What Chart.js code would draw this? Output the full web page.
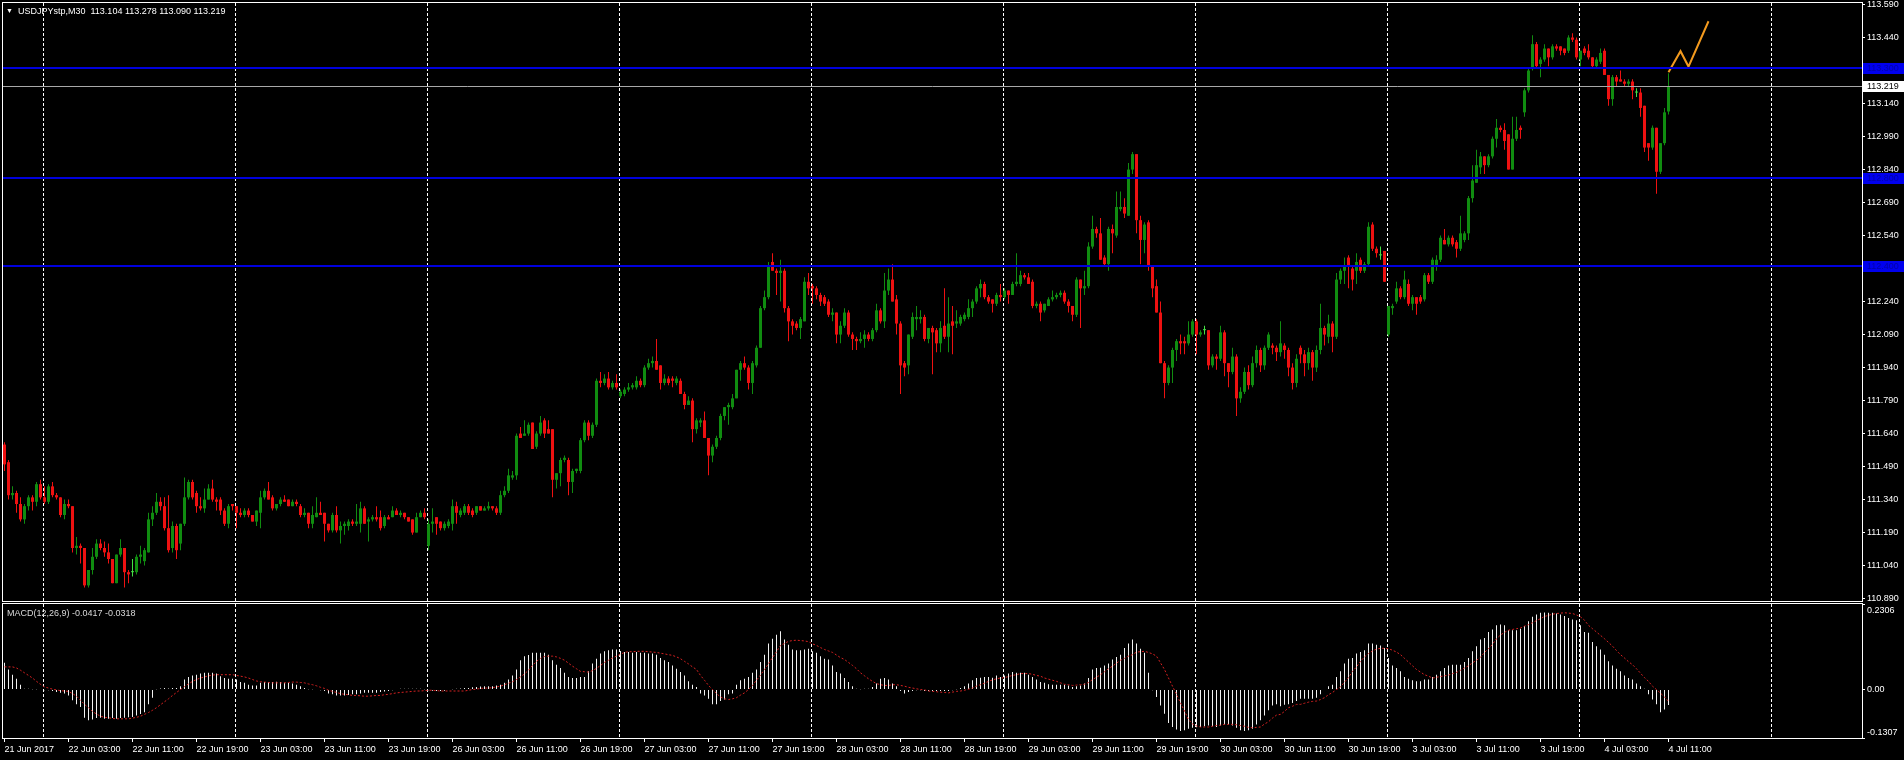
<!DOCTYPE html>
<html>
<head>
<meta charset="utf-8">
<script src="https://cdn.jsdelivr.net/npm/chart.js@4.4.0/dist/chart.umd.min.js"></script>
<style>
html,body{margin:0;padding:0;background:#000;}
body{width:1904px;height:760px;overflow:hidden;position:relative;font-family:'Liberation Sans',Arial,sans-serif;}
canvas{position:absolute;left:0;}
#main{top:0;}
#macd{top:603px;}
.lbl{position:absolute;font-size:9px;white-space:pre;line-height:10px;}
</style>
</head>
<body>
<canvas id="main" width="1904" height="603"></canvas>
<canvas id="macd" width="1904" height="157"></canvas>
<div class="lbl" style="left:6px;top:6px;color:#fff;font-size:7px;">▼</div>
<div class="lbl" id="title" style="left:18px;top:6px;color:#fff;"></div>
<div class="lbl" id="macdTitle" style="left:7px;top:608px;color:#d8d8d8;"></div>
<script>
// ---------- DATA ----------
const symbol = "USDJPYstp,M30";
const tickLabels = ["21 Jun 2017","22 Jun 03:00","22 Jun 11:00","22 Jun 19:00","23 Jun 03:00","23 Jun 11:00","23 Jun 19:00","26 Jun 03:00","26 Jun 11:00","26 Jun 19:00","27 Jun 03:00","27 Jun 11:00","27 Jun 19:00","28 Jun 03:00","28 Jun 11:00","28 Jun 19:00","29 Jun 03:00","29 Jun 11:00","29 Jun 19:00","30 Jun 03:00","30 Jun 11:00","30 Jun 19:00","3 Jul 03:00","3 Jul 11:00","3 Jul 19:00","4 Jul 03:00","4 Jul 11:00"];
const barsPerLabel = 16;
const dayStarts = [10,58,106,154,202,250,298,346,394,442];
const priceTicks = [110.890,111.040,111.190,111.340,111.490,111.640,111.790,111.940,112.090,112.240,112.390,112.540,112.690,112.840,112.990,113.140,113.290,113.440,113.590];
const levelLines = [113.300,112.800,112.400];
const bidPrice = 113.219;
const projX = [416,419,421,426];
const projY = [113.282,113.378,113.308,113.514];
const macdMax = 0.2306, macdMin = -0.1307;

const opens = [111.59,111.51,111.36,111.37,111.32,111.25,111.31,111.35,111.33,111.41,
111.35,111.33,111.40,111.36,111.35,111.27,111.32,111.31,111.12,111.13,
111.12,110.95,111.02,111.08,111.14,111.12,111.10,111.07,110.96,111.09,
111.12,111.01,111.01,111.01,111.08,111.06,111.10,111.25,111.28,111.33,
111.31,111.21,111.12,111.22,111.14,111.23,111.35,111.42,111.37,111.31,
111.30,111.34,111.39,111.34,111.34,111.29,111.23,111.32,111.31,111.28,
111.27,111.29,111.27,111.24,111.28,111.35,111.38,111.35,111.30,111.32,
111.34,111.34,111.31,111.33,111.31,111.27,111.28,111.23,111.26,111.28,
111.28,111.23,111.20,111.27,111.20,111.22,111.22,111.24,111.23,111.23,
111.30,111.24,111.25,111.26,111.26,111.22,111.26,111.26,111.29,111.27,
111.28,111.26,111.25,111.19,111.26,111.28,111.13,111.23,111.26,111.24,
111.21,111.22,111.23,111.31,111.27,111.28,111.31,111.29,111.28,111.31,
111.29,111.30,111.31,111.30,111.28,111.36,111.38,111.44,111.45,111.64,
111.63,111.64,111.69,111.58,111.64,111.70,111.66,111.66,111.43,111.46,
111.52,111.52,111.42,111.47,111.47,111.61,111.69,111.63,111.68,111.88,
111.87,111.89,111.85,111.87,111.81,111.82,111.84,111.85,111.85,111.88,
111.86,111.94,111.96,111.97,111.95,111.87,111.89,111.89,111.87,111.88,
111.82,111.77,111.79,111.66,111.69,111.70,111.62,111.54,111.58,111.62,
111.72,111.76,111.76,111.80,111.93,111.96,111.94,111.87,111.95,112.03,
112.21,112.26,112.42,112.38,112.37,112.38,112.21,112.15,112.14,112.12,
112.15,112.33,112.31,112.30,112.27,112.26,112.24,112.18,112.19,112.09,
112.13,112.19,112.09,112.07,112.06,112.07,112.09,112.07,112.11,112.20,
112.15,112.29,112.34,112.25,112.14,111.96,111.95,112.08,112.16,112.16,
112.17,112.07,112.12,112.11,112.05,112.13,112.08,112.15,112.14,112.14,
112.16,112.17,112.21,112.24,112.30,112.32,112.26,112.25,112.23,112.27,
112.26,112.29,112.27,112.32,112.32,112.36,112.35,112.33,112.22,112.23,
112.20,112.22,112.25,112.26,112.27,112.28,112.24,112.22,112.18,112.34,
112.30,112.31,112.49,112.57,112.55,112.44,112.41,112.57,112.54,112.66,
112.67,112.63,112.84,112.91,112.61,112.52,112.60,112.40,112.31,112.19,
111.96,111.87,111.94,112.02,112.06,112.06,112.05,112.09,112.15,112.09,
112.11,112.11,111.95,111.99,111.98,112.10,111.96,111.92,111.99,111.80,
111.83,111.92,111.86,111.96,112.02,111.95,112.03,112.04,112.03,112.01,
112.04,112.02,111.94,111.87,112.03,112.00,111.96,112.01,111.94,112.02,
112.12,112.08,112.14,112.08,112.34,112.38,112.44,112.39,112.38,112.43,
112.38,112.41,112.59,112.48,112.45,112.47,112.09,112.21,112.24,112.30,
112.26,112.32,112.23,112.26,112.26,112.25,112.36,112.33,112.40,112.43,
112.52,112.50,112.53,112.51,112.48,112.52,112.55,112.71,112.78,112.85,
112.90,112.86,112.90,112.98,113.03,113.02,113.00,112.84,112.98,113.03,
113.10,113.20,113.30,113.41,113.32,113.34,113.39,113.35,113.40,113.40,
113.39,113.38,113.44,113.43,113.34,113.39,113.38,113.35,113.31,113.33,
113.38,113.27,113.16,113.26,113.25,113.24,113.23,113.24,113.19,113.19,
113.13,112.96,112.94,113.03,112.83,112.96,113.104];

const highs = [111.60,111.52,111.40,111.38,111.35,111.32,111.36,111.36,111.42,111.43,
111.40,111.41,111.42,111.37,111.35,111.34,111.34,111.31,111.17,111.14,
111.12,111.02,111.12,111.16,111.16,111.15,111.14,111.07,111.09,111.16,
111.12,111.02,111.07,111.09,111.13,111.12,111.28,111.31,111.37,111.35,
111.35,111.36,111.24,111.23,111.23,111.44,111.43,111.43,111.38,111.35,
111.39,111.41,111.43,111.35,111.35,111.30,111.32,111.32,111.31,111.30,
111.30,111.30,111.27,111.29,111.38,111.39,111.42,111.36,111.32,111.35,
111.36,111.34,111.34,111.34,111.32,111.30,111.28,111.31,111.35,111.33,
111.28,111.23,111.28,111.31,111.24,111.24,111.25,111.25,111.32,111.33,
111.31,111.26,111.27,111.31,111.29,111.27,111.27,111.31,111.30,111.29,
111.28,111.26,111.25,111.28,111.29,111.30,111.25,111.30,111.26,111.24,
111.24,111.25,111.34,111.33,111.30,111.32,111.32,111.30,111.31,111.31,
111.31,111.33,111.31,111.31,111.38,111.40,111.48,111.47,111.64,111.67,
111.70,111.69,111.69,111.65,111.72,111.71,111.70,111.66,111.46,111.53,
111.54,111.53,111.48,111.48,111.62,111.70,111.70,111.69,111.89,111.92,
111.91,111.92,111.88,111.91,111.84,111.85,111.87,111.87,111.90,111.89,
111.95,111.98,111.99,112.07,111.95,111.91,111.90,111.90,111.90,111.89,
111.83,111.81,111.80,111.71,111.71,111.74,111.62,111.59,111.63,111.73,
111.76,111.78,111.82,111.93,111.97,111.99,111.95,111.97,112.04,112.22,
112.29,112.42,112.46,112.39,112.43,112.39,112.22,112.16,112.15,112.17,
112.35,112.37,112.32,112.31,112.28,112.27,112.25,112.21,112.19,112.15,
112.21,112.20,112.10,112.08,112.10,112.11,112.10,112.12,112.23,112.21,
112.37,112.39,112.41,112.27,112.15,111.97,112.09,112.19,112.22,112.20,
112.18,112.12,112.13,112.12,112.15,112.30,112.26,112.22,112.20,112.18,
112.19,112.25,112.25,112.31,112.34,112.33,112.27,112.25,112.28,112.32,
112.30,112.29,112.33,112.46,112.38,112.37,112.37,112.34,112.24,112.24,
112.23,112.26,112.29,112.28,112.29,112.29,112.25,112.22,112.35,112.34,
112.38,112.51,112.63,112.58,112.62,112.45,112.58,112.59,112.74,112.74,
112.71,112.87,112.92,112.91,112.63,112.60,112.61,112.40,112.34,112.24,
111.97,111.95,112.03,112.07,112.09,112.08,112.15,112.16,112.16,112.11,
112.13,112.11,112.00,112.00,112.13,112.11,111.96,112.03,112.00,111.85,
111.94,111.95,111.99,112.04,112.03,112.04,112.10,112.05,112.04,112.15,
112.05,112.03,111.96,112.00,112.04,112.02,112.03,112.02,112.04,112.23,
112.13,112.18,112.15,112.37,112.39,112.44,112.45,112.40,112.46,112.44,
112.42,112.60,112.60,112.49,112.49,112.47,112.22,112.23,112.33,112.31,
112.38,112.34,112.27,112.26,112.27,112.37,112.37,112.44,112.45,112.54,
112.57,112.54,112.54,112.52,112.63,112.56,112.72,112.86,112.93,112.92,
112.90,112.91,112.99,113.07,113.04,113.05,113.00,113.08,113.08,113.04,
113.21,113.30,113.45,113.42,113.35,113.41,113.39,113.41,113.41,113.40,
113.39,113.45,113.46,113.44,113.38,113.40,113.41,113.35,113.35,113.39,
113.39,113.27,113.27,113.27,113.29,113.25,113.25,113.25,113.21,113.21,
113.13,112.96,113.04,113.03,112.96,113.12,113.278];

const lows = [111.47,111.34,111.34,111.28,111.24,111.23,111.29,111.29,111.31,111.34,
111.32,111.32,111.35,111.34,111.26,111.25,111.30,111.10,111.09,111.05,
110.94,110.94,111.00,111.07,111.11,111.08,111.05,110.96,110.96,111.08,
110.94,110.96,110.99,111.00,111.05,111.04,111.10,111.22,111.27,111.29,
111.20,111.10,111.10,111.07,111.11,111.22,111.34,111.34,111.28,111.29,
111.28,111.34,111.33,111.29,111.27,111.22,111.21,111.29,111.21,111.26,
111.26,111.26,111.24,111.22,111.21,111.34,111.34,111.29,111.29,111.31,
111.33,111.31,111.31,111.31,111.26,111.26,111.21,111.21,111.26,111.27,
111.15,111.19,111.19,111.19,111.14,111.18,111.20,111.22,111.22,111.19,
111.23,111.15,111.24,111.24,111.20,111.21,111.25,111.26,111.27,111.26,
111.25,111.24,111.18,111.19,111.26,111.25,111.11,111.19,111.18,111.20,
111.20,111.21,111.20,111.23,111.26,111.27,111.27,111.26,111.27,111.29,
111.29,111.29,111.29,111.27,111.27,111.35,111.37,111.43,111.43,111.62,
111.63,111.63,111.57,111.57,111.63,111.62,111.64,111.35,111.39,111.40,
111.51,111.36,111.37,111.46,111.46,111.60,111.61,111.62,111.67,111.85,
111.86,111.84,111.84,111.84,111.80,111.81,111.83,111.84,111.84,111.85,
111.85,111.93,111.94,111.93,111.84,111.86,111.86,111.85,111.86,111.82,
111.75,111.77,111.60,111.64,111.67,111.62,111.45,111.51,111.57,111.61,
111.70,111.68,111.75,111.80,111.88,111.93,111.84,111.82,111.94,112.03,
112.20,112.25,112.38,112.27,112.24,112.19,112.06,112.09,112.11,112.07,
112.15,112.27,112.23,112.25,112.22,112.22,112.17,112.15,112.05,112.05,
112.12,112.08,112.02,112.02,112.05,112.03,112.06,112.06,112.10,112.14,
112.12,112.27,112.24,112.09,111.82,111.90,111.91,112.07,112.11,112.14,
112.06,112.05,111.91,112.01,112.01,112.07,112.01,112.00,112.12,112.13,
112.15,112.16,112.17,112.23,112.26,112.25,112.23,112.19,112.22,112.24,
112.25,112.23,112.27,112.31,112.31,112.34,112.32,112.21,112.21,112.15,
112.19,112.22,112.24,112.25,112.26,112.23,112.19,112.15,112.17,112.12,
112.27,112.30,112.48,112.53,112.43,112.40,112.38,112.46,112.53,112.65,
112.62,112.63,112.82,112.55,112.41,112.46,112.38,112.26,112.19,111.96,
111.80,111.86,111.87,111.97,112.00,112.00,112.04,112.08,112.00,112.08,
112.09,111.93,111.94,111.93,111.97,111.90,111.85,111.91,111.72,111.78,
111.82,111.84,111.85,111.94,111.92,111.93,112.02,112.00,111.97,111.99,
111.98,111.90,111.84,111.85,111.96,111.90,111.93,111.88,111.92,112.00,
112.04,112.05,112.01,112.07,112.32,112.32,112.30,112.29,112.32,112.37,
112.37,112.40,112.47,112.44,112.43,112.33,112.08,112.18,112.23,112.25,
112.25,112.22,112.20,112.18,112.23,112.24,112.32,112.32,112.38,112.42,
112.50,112.49,112.49,112.44,112.47,112.51,112.52,112.69,112.78,112.82,
112.82,112.85,112.89,112.94,113.01,112.93,112.84,112.84,112.97,112.98,
113.08,113.19,113.29,113.30,113.26,113.33,113.31,113.34,113.38,113.36,
113.36,113.37,113.42,113.34,113.31,113.36,113.34,113.30,113.30,113.32,
113.27,113.13,113.13,113.22,113.24,113.22,113.22,113.16,113.17,113.08,
112.92,112.88,112.93,112.73,112.82,112.95,113.090];

const closes = [111.50,111.36,111.37,111.32,111.25,111.31,111.35,111.33,111.41,111.35,
111.33,111.40,111.36,111.35,111.27,111.32,111.31,111.12,111.13,111.12,
110.95,111.02,111.08,111.14,111.12,111.10,111.07,110.96,111.09,111.12,
111.01,111.00,111.01,111.08,111.09,111.11,111.25,111.28,111.33,111.31,
111.21,111.11,111.22,111.11,111.23,111.35,111.42,111.35,111.31,111.30,
111.34,111.39,111.34,111.33,111.29,111.23,111.31,111.31,111.28,111.27,
111.29,111.27,111.24,111.29,111.35,111.38,111.34,111.30,111.32,111.34,
111.33,111.31,111.33,111.32,111.27,111.28,111.23,111.27,111.28,111.27,
111.23,111.20,111.27,111.20,111.22,111.23,111.24,111.23,111.24,111.30,
111.23,111.25,111.26,111.25,111.21,111.26,111.25,111.29,111.27,111.28,
111.26,111.24,111.19,111.26,111.28,111.26,111.23,111.24,111.23,111.21,
111.23,111.24,111.31,111.28,111.29,111.31,111.28,111.27,111.31,111.29,
111.30,111.31,111.30,111.28,111.36,111.38,111.45,111.45,111.63,111.62,
111.64,111.68,111.57,111.64,111.69,111.64,111.64,111.43,111.46,111.52,
111.53,111.42,111.47,111.48,111.61,111.69,111.63,111.68,111.88,111.87,
111.89,111.85,111.87,111.85,111.83,111.84,111.85,111.86,111.88,111.86,
111.94,111.96,111.97,111.93,111.87,111.89,111.87,111.88,111.89,111.82,
111.77,111.79,111.66,111.70,111.70,111.62,111.54,111.58,111.62,111.72,
111.76,111.77,111.80,111.93,111.96,111.94,111.87,111.96,112.03,112.21,
112.26,112.40,112.38,112.37,112.38,112.21,112.15,112.13,112.12,112.16,
112.33,112.30,112.30,112.27,112.24,112.23,112.18,112.19,112.09,112.13,
112.19,112.09,112.07,112.06,112.07,112.09,112.07,112.11,112.20,112.15,
112.29,112.34,112.24,112.14,111.95,111.94,112.09,112.17,112.17,112.17,
112.07,112.12,112.10,112.05,112.12,112.08,112.14,112.13,112.15,112.17,
112.18,112.21,112.24,112.30,112.32,112.26,112.24,112.23,112.27,112.26,
112.29,112.27,112.32,112.33,112.36,112.35,112.32,112.22,112.23,112.19,
112.23,112.25,112.26,112.27,112.28,112.24,112.22,112.18,112.34,112.30,
112.31,112.49,112.57,112.55,112.43,112.41,112.57,112.55,112.67,112.67,
112.64,112.84,112.91,112.61,112.52,112.59,112.40,112.30,112.19,111.96,
111.87,111.94,112.02,112.06,112.05,112.05,112.09,112.15,112.09,112.10,
112.11,111.95,111.99,111.98,112.10,111.96,111.92,111.99,111.80,111.83,
111.92,111.86,111.96,112.02,111.95,112.03,112.09,112.03,112.01,112.05,
112.02,111.94,111.87,111.98,112.00,111.96,112.01,111.94,112.02,112.12,
112.09,112.14,112.08,112.34,112.38,112.40,112.40,112.34,112.42,112.38,
112.41,112.58,112.48,112.46,112.45,112.33,112.22,112.22,112.30,112.26,
112.34,112.23,112.26,112.23,112.24,112.36,112.33,112.43,112.43,112.53,
112.50,112.53,112.50,112.48,112.55,112.55,112.71,112.79,112.86,112.90,
112.86,112.90,112.98,113.03,113.02,112.97,112.84,112.98,113.02,113.02,
113.20,113.29,113.41,113.31,113.34,113.39,113.35,113.40,113.39,113.38,
113.37,113.44,113.43,113.35,113.38,113.37,113.35,113.31,113.34,113.37,
113.27,113.16,113.26,113.24,113.24,113.23,113.24,113.20,113.19,113.12,
112.94,112.94,113.03,112.83,112.96,113.10,113.219];

const macdHist = [0.072,0.054,0.040,0.029,0.013,0.002,0.002,0.001,0.001,-0.001,
-0.002,-0.002,-0.004,-0.007,-0.009,-0.011,-0.016,-0.029,-0.040,-0.047,
-0.076,-0.083,-0.081,-0.077,-0.076,-0.079,-0.079,-0.077,-0.079,-0.077,
-0.076,-0.075,-0.074,-0.070,-0.066,-0.061,-0.040,-0.022,0.001,0.003,
0.004,0.003,0.004,0.004,0.009,0.027,0.034,0.038,0.040,0.043,
0.045,0.045,0.045,0.043,0.036,0.031,0.029,0.029,0.027,0.020,
0.018,0.013,0.011,0.011,0.018,0.020,0.020,0.020,0.021,0.020,
0.018,0.018,0.016,0.013,0.009,0.004,0.001,0.001,-0.001,-0.002,
-0.004,-0.011,-0.013,-0.016,-0.016,-0.016,-0.015,-0.013,-0.013,-0.011,
-0.009,-0.009,-0.009,-0.009,-0.007,-0.005,-0.004,-0.002,-0.001,0.002,
0.002,0.002,0.002,0.002,0.002,0.001,-0.002,-0.003,-0.004,-0.004,
-0.003,-0.001,0.001,0.002,0.003,0.004,0.004,0.006,0.007,0.008,
0.009,0.009,0.009,0.011,0.013,0.018,0.027,0.038,0.054,0.079,
0.090,0.093,0.099,0.099,0.099,0.099,0.094,0.079,0.067,0.058,
0.045,0.034,0.031,0.031,0.034,0.034,0.049,0.070,0.083,0.097,
0.103,0.106,0.108,0.108,0.104,0.101,0.101,0.099,0.101,0.099,
0.099,0.097,0.097,0.094,0.085,0.079,0.074,0.065,0.056,0.047,
0.038,0.022,0.013,0.007,-0.011,-0.016,-0.025,-0.040,-0.040,-0.031,
-0.027,-0.013,-0.011,0.013,0.025,0.029,0.034,0.045,0.054,0.074,
0.094,0.124,0.137,0.148,0.157,0.135,0.121,0.108,0.106,0.106,
0.108,0.110,0.103,0.099,0.090,0.083,0.081,0.065,0.047,0.043,
0.031,0.020,0.009,0.002,0.001,0.002,0.002,0.007,0.016,0.029,
0.031,0.027,0.016,0.009,-0.004,-0.011,-0.007,-0.004,-0.002,-0.002,
-0.004,-0.004,-0.004,-0.004,-0.004,-0.004,-0.004,-0.002,0.001,0.004,
0.009,0.016,0.025,0.031,0.032,0.034,0.034,0.032,0.038,0.034,
0.038,0.043,0.047,0.045,0.045,0.045,0.040,0.034,0.027,0.020,
0.018,0.014,0.013,0.013,0.013,0.013,0.011,0.007,0.009,0.011,
0.016,0.031,0.054,0.058,0.059,0.065,0.070,0.081,0.088,0.094,
0.112,0.124,0.135,0.124,0.110,0.099,0.045,-0.002,-0.020,-0.043,
-0.065,-0.090,-0.101,-0.108,-0.112,-0.110,-0.106,-0.103,-0.102,-0.101,
-0.099,-0.097,-0.099,-0.101,-0.097,-0.094,-0.094,-0.097,-0.103,-0.110,
-0.112,-0.110,-0.106,-0.094,-0.083,-0.070,-0.056,-0.043,-0.040,-0.045,
-0.041,-0.040,-0.036,-0.031,-0.025,-0.025,-0.025,-0.025,-0.022,-0.013,
-0.001,0.009,0.013,0.034,0.049,0.070,0.083,0.085,0.097,0.101,
0.106,0.124,0.124,0.121,0.119,0.112,0.085,0.065,0.058,0.049,
0.034,0.029,0.025,0.022,0.022,0.027,0.027,0.034,0.040,0.049,
0.058,0.065,0.067,0.067,0.067,0.074,0.085,0.103,0.117,0.135,
0.139,0.155,0.162,0.173,0.175,0.173,0.160,0.160,0.160,0.164,
0.171,0.184,0.196,0.202,0.207,0.208,0.207,0.207,0.205,0.202,
0.198,0.193,0.189,0.187,0.173,0.155,0.153,0.128,0.117,0.108,
0.094,0.076,0.065,0.056,0.049,0.038,0.031,0.027,0.016,0.009,
0.002,-0.013,-0.027,-0.040,-0.061,-0.054,-0.0417];

const macdSignal = [0.061,0.061,0.061,0.058,0.052,0.045,0.038,0.031,0.022,0.014,
0.007,0.004,0.001,-0.001,-0.003,-0.004,-0.005,-0.011,-0.018,-0.029,
-0.040,-0.049,-0.059,-0.066,-0.072,-0.075,-0.076,-0.078,-0.079,-0.079,
-0.079,-0.079,-0.077,-0.075,-0.072,-0.067,-0.062,-0.056,-0.049,-0.041,
-0.033,-0.025,-0.016,-0.008,0.000,0.008,0.015,0.022,0.027,0.031,
0.034,0.037,0.039,0.040,0.040,0.040,0.040,0.040,0.038,0.036,
0.034,0.031,0.027,0.023,0.021,0.020,0.019,0.018,0.018,0.018,
0.018,0.019,0.020,0.020,0.019,0.018,0.015,0.013,0.010,0.006,
0.003,-0.002,-0.005,-0.008,-0.011,-0.013,-0.014,-0.016,-0.016,-0.017,
-0.018,-0.018,-0.017,-0.016,-0.016,-0.014,-0.013,-0.011,-0.009,-0.008,
-0.007,-0.006,-0.005,-0.004,-0.004,-0.003,-0.002,-0.002,-0.003,-0.004,
-0.004,-0.004,-0.004,-0.004,-0.004,-0.004,-0.002,0.000,0.001,0.003,
0.004,0.004,0.005,0.007,0.009,0.013,0.017,0.021,0.027,0.034,
0.042,0.052,0.065,0.076,0.084,0.089,0.090,0.090,0.088,0.084,
0.079,0.071,0.063,0.056,0.049,0.048,0.047,0.051,0.057,0.065,
0.073,0.079,0.085,0.090,0.095,0.100,0.102,0.102,0.103,0.103,
0.103,0.102,0.101,0.100,0.098,0.096,0.094,0.092,0.088,0.083,
0.076,0.069,0.061,0.054,0.038,0.025,0.011,0.000,-0.011,-0.020,
-0.025,-0.027,-0.025,-0.022,-0.015,-0.009,0.000,0.011,0.025,0.039,
0.054,0.070,0.086,0.102,0.119,0.124,0.130,0.132,0.133,0.132,
0.131,0.129,0.123,0.119,0.113,0.108,0.104,0.100,0.093,0.086,
0.081,0.073,0.065,0.056,0.045,0.037,0.029,0.022,0.016,0.013,
0.011,0.011,0.013,0.013,0.011,0.009,0.006,0.004,0.002,0.000,
-0.001,-0.004,-0.005,-0.006,-0.007,-0.008,-0.009,-0.007,-0.005,-0.004,
-0.002,0.001,0.004,0.009,0.013,0.017,0.022,0.026,0.029,0.031,
0.032,0.035,0.038,0.040,0.043,0.043,0.043,0.041,0.038,0.036,
0.031,0.028,0.025,0.022,0.018,0.014,0.013,0.011,0.012,0.013,
0.014,0.019,0.027,0.033,0.040,0.048,0.056,0.063,0.071,0.079,
0.084,0.090,0.094,0.101,0.102,0.103,0.100,0.096,0.090,0.072,
0.054,0.031,0.009,-0.013,-0.036,-0.058,-0.081,-0.093,-0.098,-0.101,
-0.101,-0.101,-0.099,-0.097,-0.096,-0.094,-0.094,-0.094,-0.095,-0.097,
-0.099,-0.102,-0.103,-0.102,-0.101,-0.093,-0.087,-0.077,-0.069,-0.067,
-0.059,-0.049,-0.045,-0.040,-0.040,-0.037,-0.034,-0.032,-0.031,-0.027,
-0.022,-0.014,-0.008,0.000,0.007,0.020,0.032,0.049,0.061,0.076,
0.088,0.097,0.104,0.109,0.111,0.111,0.110,0.106,0.101,0.094,
0.084,0.074,0.064,0.054,0.047,0.040,0.036,0.031,0.033,0.035,
0.037,0.039,0.043,0.046,0.052,0.058,0.064,0.072,0.079,0.087,
0.100,0.110,0.122,0.137,0.147,0.154,0.160,0.162,0.164,0.166,
0.171,0.175,0.180,0.186,0.191,0.197,0.200,0.203,0.205,0.206,
0.207,0.206,0.205,0.201,0.196,0.187,0.173,0.164,0.155,0.146,
0.137,0.127,0.117,0.105,0.094,0.085,0.075,0.067,0.056,0.044,
0.032,0.022,0.009,0.000,-0.010,-0.020,-0.0318];

// ---------- CHECK ----------
const N = closes.length;
[opens,highs,lows,macdHist,macdSignal].forEach((a,k)=>{ if(a.length!==N) throw new Error('length mismatch '+k+': '+a.length+' vs '+N); });

// ---------- STYLE ----------
const FONT = "'Liberation Sans', Arial, sans-serif";
Chart.defaults.font.family = FONT;
Chart.defaults.font.size = 9;
Chart.defaults.color = '#ffffff';
const UP = '#108c10', DN = '#ee1111', DOJI = '#44e044';
const candleColor = opens.map((o,i)=> closes[i] > o ? UP : (closes[i] < o ? DN : DOJI));
const X_MIN = -0.375, X_MAX = 464.375;
const AXIS_W = 42;

document.getElementById('title').textContent =
  symbol + '  ' + opens[N-1].toFixed(3) + ' ' + highs[N-1].toFixed(3) + ' ' + lows[N-1].toFixed(3) + ' ' + closes[N-1].toFixed(3);
document.getElementById('macdTitle').textContent =
  'MACD(12,26,9) ' + macdHist[N-1].toFixed(4) + ' ' + macdSignal[N-1].toFixed(4);

const zeroPad = s => { s.paddingTop = 0; s.paddingBottom = 0; s.paddingLeft = 0; s.paddingRight = 0; };

const framePlugin = {
  id: 'frame',
  afterDraw(chart) {
    const {left, top, right, bottom} = chart.chartArea;
    const ctx = chart.ctx;
    ctx.save();
    ctx.strokeStyle = '#ffffff';
    ctx.lineWidth = 1;
    ctx.strokeRect(Math.round(left) - 0.5, Math.round(top) - 0.5, Math.round(right - left) + 1, Math.round(bottom - top) + 1);
    ctx.restore();
  }
};

const levelsPlugin = {
  id: 'levels',
  afterDatasetsDraw(chart) {
    const y = chart.scales.y, ctx = chart.ctx, {left, right} = chart.chartArea;
    ctx.save();
    ctx.strokeStyle = '#a8a8a8'; ctx.lineWidth = 1;
    const by = Math.round(y.getPixelForValue(bidPrice)) + 0.5;
    ctx.beginPath(); ctx.moveTo(left, by); ctx.lineTo(right, by); ctx.stroke();
    ctx.strokeStyle = '#0000dc'; ctx.lineWidth = 2;
    levelLines.forEach(v => {
      const py = Math.round(y.getPixelForValue(v));
      ctx.beginPath(); ctx.moveTo(left, py); ctx.lineTo(right, py); ctx.stroke();
    });
    ctx.restore();
  },
  afterDraw(chart) {
    const y = chart.scales.y, ctx = chart.ctx, x0 = chart.chartArea.right + 1;
    ctx.save();
    ctx.font = '9px ' + FONT;
    ctx.textBaseline = 'middle';
    levelLines.forEach(v => {
      const py = Math.round(y.getPixelForValue(v));
      ctx.fillStyle = '#0000ee';
      ctx.fillRect(x0, py - 5, 1904 - x0, 11);
      ctx.fillStyle = '#0000a8';
      ctx.fillText(v.toFixed(3), x0 + 4, py + 0.5);
    });
    const by = Math.round(y.getPixelForValue(bidPrice));
    ctx.fillStyle = '#ffffff';
    ctx.fillRect(x0, by - 5, 1904 - x0, 11);
    ctx.fillStyle = '#000000';
    ctx.fillText(bidPrice.toFixed(3), x0 + 4, by + 0.5);
    ctx.restore();
  }
};

const macdLabelsPlugin = {
  id: 'macdLabels',
  afterDraw(chart) {
    const y = chart.scales.y, ctx = chart.ctx, x0 = chart.chartArea.right + 5;
    ctx.save();
    ctx.font = '9px ' + FONT;
    ctx.fillStyle = '#ffffff';
    ctx.textBaseline = 'middle';
    ctx.fillText(macdMax.toFixed(4), x0, y.getPixelForValue(macdMax) + 7);
    ctx.fillText('0.00', x0, y.getPixelForValue(0));
    ctx.fillText(macdMin.toFixed(4), x0, y.getPixelForValue(macdMin) - 5);
    ctx.restore();
  }
};

const commonOpts = {
  animation: false, responsive: false, devicePixelRatio: 1, events: [],
  plugins: { legend: { display: false }, tooltip: { enabled: false } }
};
const dayGridTicks = s => { s.ticks = dayStarts.map(d => ({ value: d - 0.25 })); };

// ---------- MAIN PRICE CHART ----------
new Chart(document.getElementById('main'), {
  type: 'bar',
  data: {
    datasets: [
      { type: 'line', data: projX.map((x,k)=>({x, y: projY[k]})), borderColor: '#f39a1e', borderWidth: 2,
        pointRadius: 0, tension: 0, order: 0 },
      { data: opens.map((o,i)=>({x: i, y: [o, closes[i]]})), backgroundColor: candleColor,
        barThickness: 3, minBarLength: 1, grouped: false, inflateAmount: 0, borderWidth: 0, order: 1 },
      { data: highs.map((h,i)=>({x: i, y: [lows[i], h]})), backgroundColor: candleColor,
        barThickness: 1, grouped: false, inflateAmount: 0, borderWidth: 0, order: 2 }
    ]
  },
  options: Object.assign({}, commonOpts, {
    layout: { padding: { left: 3, top: 3, right: 0, bottom: 2 } },
    scales: {
      x: { type: 'linear', min: X_MIN, max: X_MAX, offset: false,
           grid: { offset: false, color: '#ffffff', lineWidth: 1, drawTicks: false },
           border: { display: false, dash: [3,2] },
           ticks: { display: false },
           afterBuildTicks: dayGridTicks,
           afterFit: s => { s.height = 0; zeroPad(s); } },
      y: { type: 'linear', position: 'right', min: 110.879, max: 113.597,
           grid: { drawOnChartArea: false, color: '#ffffff', tickLength: 3, drawTicks: true },
           border: { display: false },
           ticks: { color: '#ffffff', padding: 2, autoSkip: false, font: { size: 9 }, callback: v => v.toFixed(3) },
           afterBuildTicks: s => { s.ticks = priceTicks.map(v => ({ value: v })); },
           afterFit: s => { s.width = AXIS_W; zeroPad(s); } }
    }
  }),
  plugins: [levelsPlugin, framePlugin]
});

// ---------- MACD CHART ----------
new Chart(document.getElementById('macd'), {
  type: 'bar',
  data: {
    datasets: [
      { type: 'line', data: macdSignal.map((v,i)=>({x: i, y: v})), borderColor: '#d42020', borderWidth: 1,
        borderDash: [2,2], pointRadius: 0, tension: 0, order: 0 },
      { data: macdHist.map((v,i)=>({x: i, y: v})), backgroundColor: '#f2f2f2',
        barThickness: 1, inflateAmount: 0, borderWidth: 0, order: 1 }
    ]
  },
  options: Object.assign({}, commonOpts, {
    layout: { padding: { left: 3, top: 1, right: 0, bottom: 0 } },
    scales: {
      x: { type: 'linear', position: 'bottom', min: X_MIN, max: X_MAX, offset: false,
           grid: { offset: false, drawOnChartArea: false, color: '#ffffff', tickLength: 4 },
           border: { display: false },
           ticks: { color: '#ffffff', align: 'start', maxRotation: 0, minRotation: 0, autoSkip: false, padding: 2,
                    font: { size: 9 }, callback: (v, idx) => tickLabels[idx] },
           afterBuildTicks: s => { s.ticks = tickLabels.map((t,k) => ({ value: k * barsPerLabel })); },
           afterFit: s => { s.height = 22; zeroPad(s); } },
      xg: { type: 'linear', position: 'top', min: X_MIN, max: X_MAX, offset: false,
           grid: { offset: false, color: '#ffffff', lineWidth: 1, drawTicks: false },
           border: { display: false, dash: [3,2] },
           ticks: { display: false },
           afterBuildTicks: dayGridTicks,
           afterFit: s => { s.height = 0; zeroPad(s); } },
      y: { type: 'linear', position: 'right', min: macdMin, max: macdMax,
           grid: { drawOnChartArea: false, color: '#ffffff', tickLength: 3 },
           border: { display: false },
           ticks: { display: false },
           afterBuildTicks: s => { s.ticks = [{ value: macdMin }, { value: 0 }, { value: macdMax }]; },
           afterFit: s => { s.width = AXIS_W; zeroPad(s); } }
    }
  }),
  plugins: [macdLabelsPlugin, framePlugin]
});
</script>
</body>
</html>
